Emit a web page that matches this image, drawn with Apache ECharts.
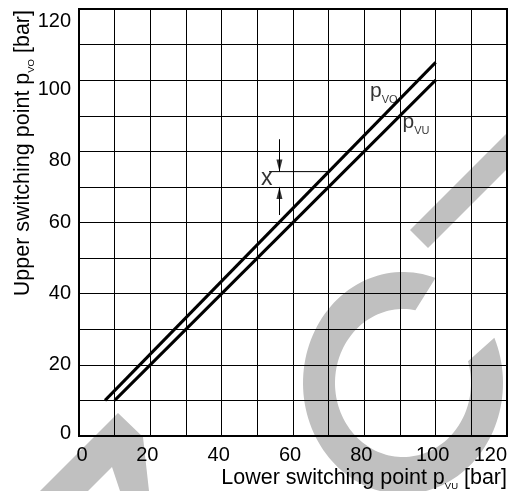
<!DOCTYPE html>
<html><head><meta charset="utf-8">
<script src="https://cdn.jsdelivr.net/npm/echarts@6/dist/echarts.min.js"></script>
<style>html,body{margin:0;padding:0;background:#fff}#c{width:511px;height:491px}</style>
</head><body><div id="c"></div><script>
// ---- data ----
const xTickLabels = ['0','20','40','60','80','100','120'];
const yTickLabels = ['0','20','40','60','80','100','120'];
const pvuX = [10, 100];
const pvuY = [10, 100];
const pvoX = [7.3, 100];
const pvoY = [10, 105];
// hysteresis annotation "x"
const arrowX = [56.2];
const upperArrowY = [83.4, 74.3];
const lowerArrowY = [62.1, 70];
const leaderX = [53.3, 70];
const leaderY = [74.3, 74.3];
const labelX = [51.0, 81.6, 90.7];
const labelY = [72.4, 96.9, 88.3];
const labelMain = ['x', 'p', 'p'];
const labelSub = ['', 'VO', 'VU'];

const FONT = 'Liberation Sans, Arial, Helvetica, sans-serif';
const GREY = '#c0c0c0';

function ring(cx, cy, rxo, ryo, rxi, ryi, ao0, ao1, ai0, ai1, n) {
  const pts = [];
  for (let i = 0; i <= n; i++) {
    const a = (ao0 + (ao1 - ao0) * i / n) * Math.PI / 180;
    pts.push([cx + rxo * Math.cos(a), cy + ryo * Math.sin(a)]);
  }
  for (let i = n; i >= 0; i--) {
    const a = (ai0 + (ai1 - ai0) * i / n) * Math.PI / 180;
    pts.push([cx + rxi * Math.cos(a), cy + ryi * Math.sin(a)]);
  }
  return pts;
}

const chart = echarts.init(document.getElementById('c'), null, {renderer: 'canvas'});
const tickStyle = {fontSize: 20, fontFamily: FONT, color: '#000'};
const subRich = {
  m: {fontSize: 21, fontFamily: FONT, color: '#000'},
  x: {fontSize: 23, fontFamily: FONT, color: '#000'},
  s: {fontSize: 11, fontFamily: FONT, color: '#000', padding: [18, 0, 0, 0]}
};
const titleRich = {
  m: {fontSize: 21.5, fontFamily: FONT, color: '#000'},
  t: {fontSize: 9.5, fontFamily: FONT, color: '#000', padding: [16, 0, 0, 0]}
};

const option = {
  animation: false,
  grid: {left: 79, right: 4, top: 9, bottom: 55, show: true, borderColor: '#000', borderWidth: 2, backgroundColor: 'transparent'},
  xAxis: {
    type: 'value', min: 0, max: 120, interval: 10,
    axisLine: {show: true, onZero: false, lineStyle: {color: '#000', width: 2}},
    axisTick: {show: false},
    splitLine: {show: true, lineStyle: {color: '#000', width: 1}},
    axisLabel: {
      margin: 9, alignMaxLabel: 'right', ...tickStyle,
      formatter: v => {
        const s = String(v);
        if (!xTickLabels.includes(s)) return '';
        if (v === 0) return '{z|0}';
        if (v === 120) return s;
        return '{l|' + s + '}';
      },
      rich: {
        z: {...tickStyle, padding: [0, 0, 0, 6]},
        l: {...tickStyle, padding: [0, 6, 0, 0]}
      }
    }
  },
  yAxis: {
    type: 'value', min: 0, max: 120, interval: 10,
    axisLine: {show: true, onZero: false, lineStyle: {color: '#000', width: 2}},
    axisTick: {show: false},
    splitLine: {show: true, lineStyle: {color: '#000', width: 1}},
    axisLabel: {
      margin: 8, ...tickStyle,
      formatter: v => {
        const s = String(v);
        if (!yTickLabels.includes(s)) return '';
        if (v === 120) return '{a|' + s + '}';
        if (v === 100 || v === 80) return '{b|' + s + '}';
        if (v === 0) return '{c|' + s + '}';
        return s;
      },
      rich: {
        a: {...tickStyle, padding: [24, 0, 0, 0]},
        b: {...tickStyle, padding: [18, 0, 0, 0]},
        c: {...tickStyle, padding: [0, 0, 5, 0]}
      }
    }
  },
  graphic: [
    {type: 'polygon', z: -10, silent: true,
     shape: {points: [[40,491],[118,413],[143,437],[149,491],[120,491],[112,467],[88,491]]},
     style: {fill: GREY}},
    {type: 'polygon', z: -10, silent: true,
     shape: {points: [[410,230],[507,133],[507,169],[428,248]]},
     style: {fill: GREY}},
    {type: 'polygon', z: -10, silent: true,
     shape: {points: ring(403, 383, 100, 111, 68, 74, -71, -384, -79.5, -377, 120)},
     style: {fill: GREY}},
    {type: 'text', z: 10, x: 23.5, y: 10, rotation: Math.PI / 2, silent: true,
     style: {text: '{m|Upper switching point p}{t|VO}{m| [bar]}', rich: titleRich, align: 'right', verticalAlign: 'middle'}},
    {type: 'text', z: 10, x: 507, y: 478, silent: true,
     style: {text: '{m|Lower switching point p}{t|VU}{m| [bar]}', rich: titleRich, align: 'right', verticalAlign: 'middle'}}
  ],
  series: [
    {type: 'line', name: 'pVO', data: pvoX.map((x, i) => [x, pvoY[i]]), symbol: 'none',
     lineStyle: {color: '#000', width: 3}, z: 5},
    {type: 'line', name: 'pVU', data: pvuX.map((x, i) => [x, pvuY[i]]), symbol: 'none',
     lineStyle: {color: '#000', width: 3}, z: 5},
    {type: 'line', name: 'leader', data: leaderX.map((x, i) => [x, leaderY[i]]), symbol: 'none',
     lineStyle: {color: '#000', width: 1}, z: 4,
     markLine: {
       silent: true, symbol: 'none',
       label: {show: false},
       lineStyle: {color: '#000', width: 1, type: 'solid'},
       data: [
         [{coord: [arrowX[0], upperArrowY[0]]}, {coord: [arrowX[0], upperArrowY[1]]}],
         [{coord: [arrowX[0], lowerArrowY[0]]}, {coord: [arrowX[0], lowerArrowY[1]]}]
       ]
     }},
    {type: 'scatter', name: 'arrowheads', z: 6, silent: true,
     symbol: 'triangle', symbolSize: [6, 12],
     itemStyle: {color: '#000'},
     data: [
       {value: [arrowX[0], upperArrowY[1]], symbolRotate: 180, symbolOffset: [0, -6]},
       {value: [arrowX[0], lowerArrowY[1]], symbolRotate: 0, symbolOffset: [0, 6]}
     ]},
    {type: 'scatter', name: 'labels', symbolSize: 0, z: 6, silent: true,
     data: labelX.map((x, i) => ({value: [x, labelY[i]], main: labelMain[i], sub: labelSub[i]})),
     label: {
       show: true, position: [0, 0], align: 'left', verticalAlign: 'middle',
       formatter: p => p.data.sub ? '{m|' + p.data.main + '}{s|' + p.data.sub + '}' : '{x|' + p.data.main + '}',
       rich: subRich
     }}
  ]
};
chart.setOption(option);
</script></body></html>
